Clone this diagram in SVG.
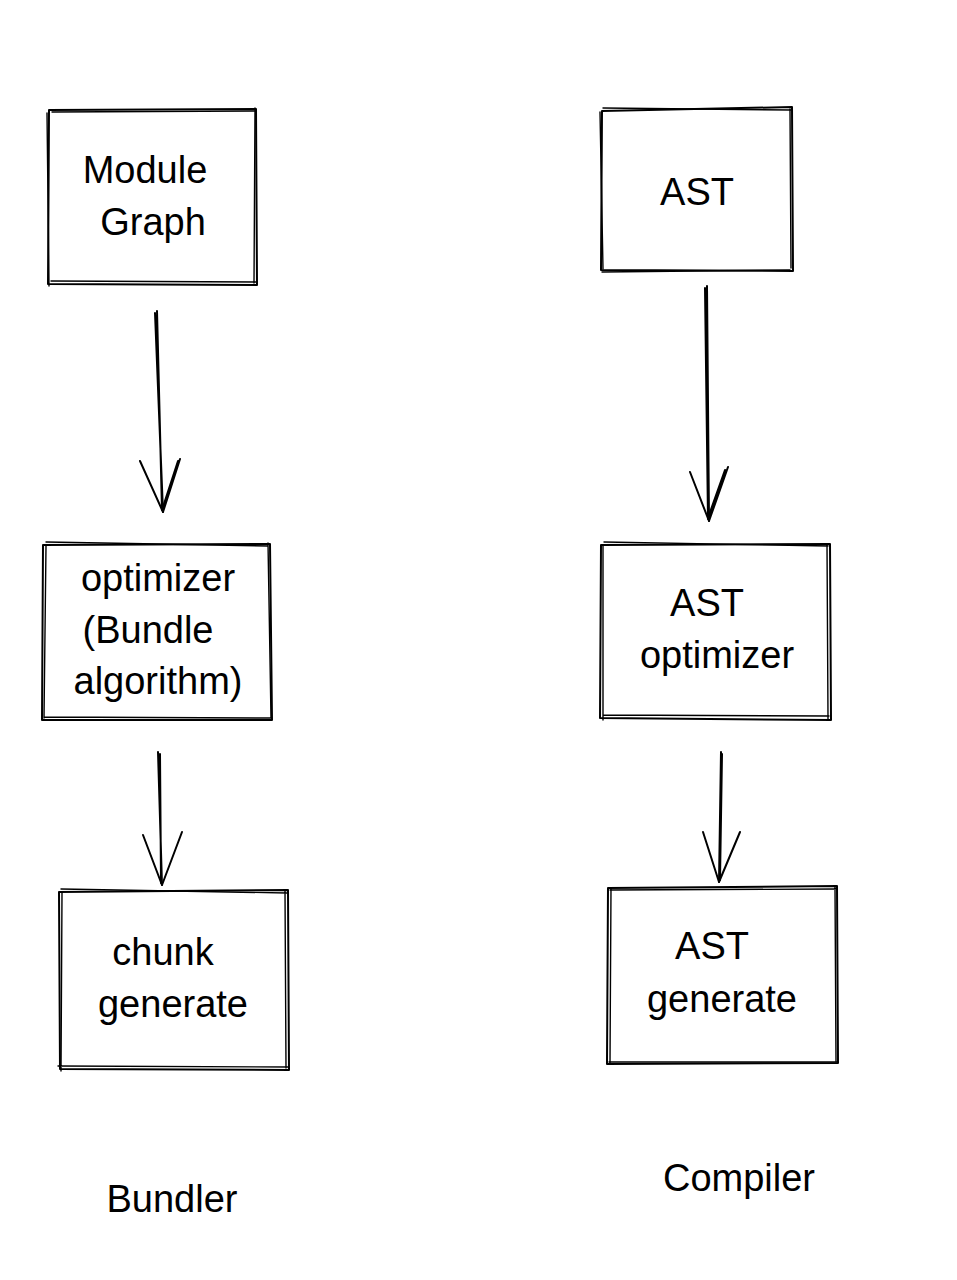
<svg xmlns="http://www.w3.org/2000/svg" width="957" height="1280" viewBox="0 0 957 1280">
<style>
.bx{fill:none;stroke:#000;stroke-width:2;stroke-linecap:round;stroke-linejoin:round}
.bx2{fill:none;stroke:#000;stroke-width:1.4;stroke-linecap:round}
.ar{fill:none;stroke:#000;stroke-width:2;stroke-linecap:round;stroke-linejoin:round}
.t{font-family:"Liberation Sans",Arial,sans-serif;font-size:38px;fill:#000;text-anchor:middle}
</style>
<rect width="957" height="1280" fill="#fff"/>
<g id="node-module-graph">
<path class="bx" d="M49 110 L256 109 L257 285 L48 284 Z"/>
<path class="bx2" d="M52 112 L254 111 M255 108 L254 283 M51 281 L257 282 M47 113 L49 286"/>
<text class="t" x="145" y="183">Module</text>
<text class="t" x="153" y="235">Graph</text>
</g>
<g id="node-ast">
<path class="bx" d="M602 111 L792 107 L793 271 L601 270 Z"/>
<path class="bx2" d="M600 112 L603 269 M603 108 L791 110 M790 109 L791 268 M602 272 L790 270"/>
<text class="t" x="697" y="205">AST</text>
</g>
<g id="node-optimizer">
<path class="bx" d="M43 545 L270 544 L272 720 L42 720 Z"/>
<path class="bx2" d="M46 542 L268 546 M268 543 L271 718 M44 717 L270 718 M46 546 L44 718"/>
<text class="t" x="158" y="591">optimizer</text>
<text class="t" x="148" y="643">(Bundle</text>
<text class="t" x="158" y="694">algorithm)</text>
</g>
<g id="node-ast-optimizer">
<path class="bx" d="M601 545 L830 544 L831 720 L600 718 Z"/>
<path class="bx2" d="M604 542 L828 546 M827 544 L828 719 M603 715 L829 716 M603 546 L603 720"/>
<text class="t" x="707" y="616">AST</text>
<text class="t" x="717" y="668">optimizer</text>
</g>
<g id="node-chunk-generate">
<path class="bx" d="M59 892 L288 890 L289 1070 L60 1069 Z"/>
<path class="bx2" d="M61 889 L287 893 M285 891 L286 1068 M58 1066 L289 1067 M62 893 L61 1071"/>
<text class="t" x="163" y="965">chunk</text>
<text class="t" x="173" y="1017">generate</text>
</g>
<g id="node-ast-generate">
<path class="bx" d="M608 888 L837 886 L838 1063 L607 1064 Z"/>
<path class="bx2" d="M610 890 L836 889 M835 887 L836 1061 M609 1062 L837 1062 M611 888 L610 1063"/>
<text class="t" x="712" y="959">AST</text>
<text class="t" x="722" y="1012">generate</text>
</g>
<g id="label-bundler">
<text class="t" x="172" y="1212">Bundler</text>
</g>
<g id="label-compiler">
<text class="t" x="739" y="1191">Compiler</text>
</g>
<g id="connectors">
<path class="ar" d="M155 313 L163 512 M157 311 L162 510"/>
<path class="ar" d="M140 461 L163 512 L180 459 M162 510 L178 461"/>
<path class="ar" d="M707 286 L709 521 M705 288 L708 519"/>
<path class="ar" d="M690 472 L709 521 L728 467 M708 518 L725 470"/>
<path class="ar" d="M158 752 L162 885 M160 754 L161 883"/>
<path class="ar" d="M143 835 L162 885 L182 832"/>
<path class="ar" d="M721 752 L719 882 M722 754 L720 880"/>
<path class="ar" d="M703 832 L719 882 L740 832"/>
</g>
</svg>
